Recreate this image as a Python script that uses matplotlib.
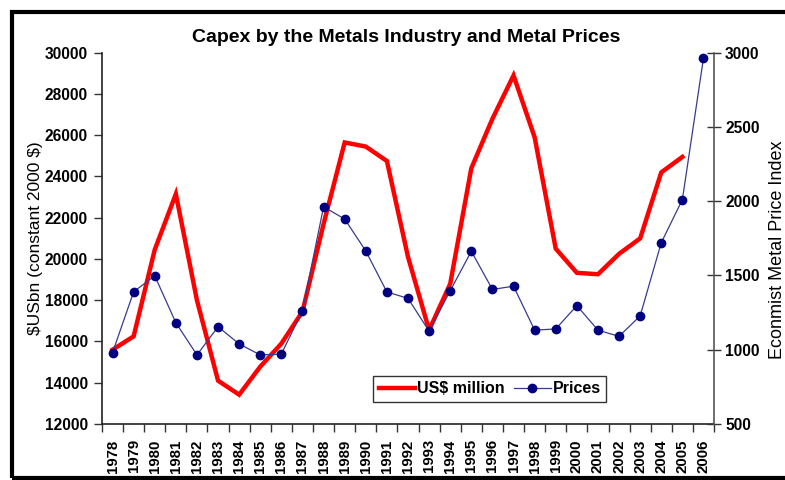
import matplotlib
matplotlib.use("Agg")
import matplotlib.pyplot as plt
from matplotlib.patches import Rectangle

plt.rcParams['font.family'] = ['Liberation Sans', 'DejaVu Sans']

years = [str(y) for y in range(1978, 2007)]

# capex, US$ million (constant 2000 $), no value for 2006
capex = [15600, 16250, 20450, 23150, 18000, 14100, 13420, 14780, 15900, 17450,
         21700, 25650, 25450, 24750, 20100, 16550, 18800, 24400, 26800, 28900,
         25900, 20500, 19330, 19260, 20250, 21000, 24200, 24950]

# Economist metal price index
prices = [980, 1390, 1498, 1182, 965, 1155, 1039, 965, 971, 1263,
          1963, 1880, 1665, 1389, 1346, 1125, 1397, 1663, 1406, 1428,
          1132, 1140, 1297, 1132, 1090, 1228, 1721, 2011, 2964]

fig = plt.figure(figsize=(7.85, 4.8), dpi=100)
ax = fig.add_axes([0.1299, 0.1167, 0.7797, 0.7734])
ax2 = ax.twinx()

x = list(range(len(years)))
l1, = ax.plot(x[:len(capex)], capex, color='#ff0000', lw=3.2, solid_joinstyle='miter',
              label='US$ million', zorder=3)
l2, = ax2.plot(x, prices, color='#3a3a8f', lw=0.9, marker='o', ms=6,
               markerfacecolor='#000080', markeredgecolor='#000080',
               label='Prices', zorder=4)

ax.set_xlim(-0.5, len(years) - 0.5)
ax.set_ylim(12000, 30000)
ax.set_yticks(range(12000, 30001, 2000))
ax2.set_ylim(500, 3000)
ax2.set_yticks(range(500, 3001, 500))

ax.set_xticks(x)
ax.set_xticklabels(years, rotation=90, fontsize=10.8, fontweight='bold')
ax.set_xticks([i - 0.5 for i in range(len(years) + 1)], minor=True)
ax.tick_params(axis='x', which='major', length=0, pad=11)
ax.tick_params(axis='x', which='minor', length=6, width=1, color='#333333')
ax.tick_params(axis='y', length=6, width=1, color='#333333', pad=4)
for lab in ax.get_yticklabels():
    lab.set_fontsize(11.2)
    lab.set_fontweight('bold')
ax2.tick_params(axis='y', direction='inout', length=10, width=1, color='#333333', pad=3)
for lab in ax2.get_yticklabels():
    lab.set_fontsize(11.2)
    lab.set_fontweight('bold')

for a in (ax, ax2):
    a.spines['top'].set_visible(False)
ax.spines['right'].set_visible(False)
ax2.spines['left'].set_visible(False)
ax2.spines['bottom'].set_visible(False)
ax.spines['left'].set_color('#222222')
ax.spines['bottom'].set_color('#222222')
ax2.spines['right'].set_color('#555555')
ax.spines['left'].set_linewidth(1.2)
ax.spines['bottom'].set_linewidth(1.2)
ax2.spines['right'].set_linewidth(1.2)

ax.set_ylabel('\\$USbn (constant 2000 \\$)', fontsize=12.5)
ax.yaxis.set_label_coords(-0.097, 0.5)
ax2.set_ylabel('Econmist Metal Price Index', fontsize=13)
ax2.yaxis.set_label_coords(1.09, 0.468)

fig.text(0.518, 0.922, 'Capex by the Metals Industry and Metal Prices',
         ha='center', va='center', fontsize=14, fontweight='bold')

leg = ax2.legend(handles=[l1, l2], ncol=2, loc='center',
                 bbox_to_anchor=(0.6236, 0.1896), bbox_transform=fig.transFigure,
                 frameon=True, fancybox=False, shadow=False, handlelength=2.3,
                 columnspacing=0.6, handletextpad=0.1, borderpad=0.35,
                 prop={'weight': 'bold', 'size': 11.5})
leg.get_frame().set_edgecolor('black')
leg.get_frame().set_linewidth(1.0)

# thick black frame around the chart area (right side runs off the image)
fig.patches.append(Rectangle((12 / 785, 2.5 / 480), 1.0, 466 / 480,
                             transform=fig.transFigure, fill=False,
                             edgecolor='black', lw=3, zorder=10))

fig.savefig('out.png', dpi=100)
